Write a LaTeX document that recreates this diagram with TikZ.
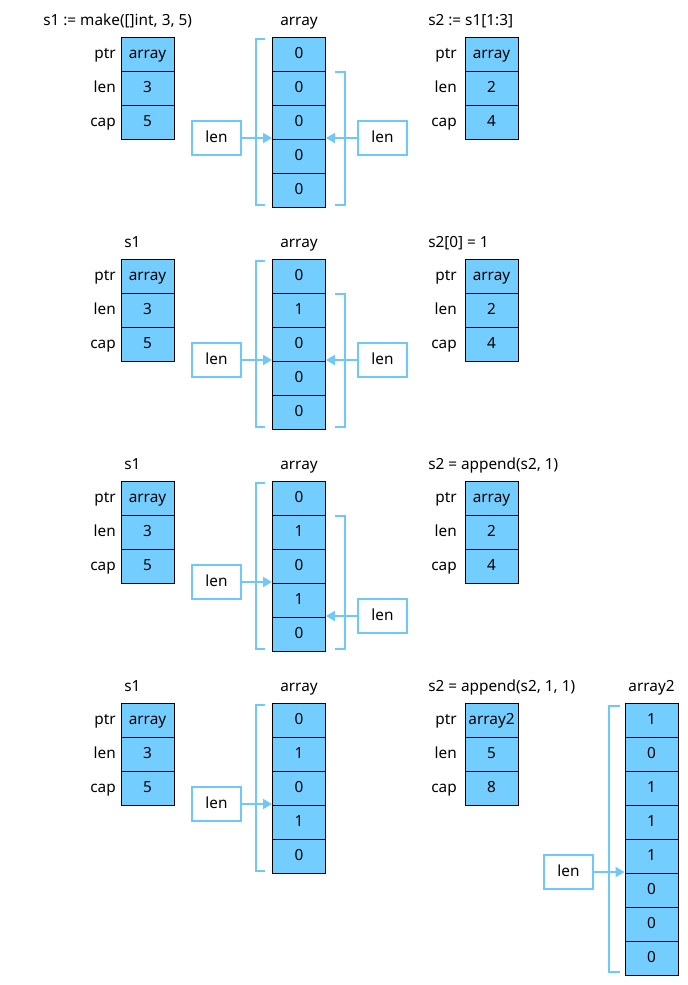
\documentclass[tikz,border=0pt]{standalone}
\usepackage{fontspec}
\setmainfont{Noto Sans}
\usetikzlibrary{arrows.meta}
\definecolor{cellblue}{RGB}{115,206,255}
\definecolor{linkblue}{RGB}{110,200,250}
\tikzset{
  txt/.style={inner sep=0pt, font=\fontsize{11.5}{13}\selectfont, text height=8.3pt, text depth=2.2pt},
  cell/.style={txt, draw=black, line width=0.75pt, fill=cellblue, minimum width=39.75pt, minimum height=25.5pt},
  field/.style={txt, anchor=east},
  caption/.style={txt},
  lenbox/.style={txt, draw=linkblue, line width=1.5pt, fill=white, minimum width=36.75pt, minimum height=25.5pt},
  bracket/.style={draw=linkblue, line width=1.5pt},
  lenarrow/.style={linkblue, line width=1.5pt, -{Triangle[length=6.75pt,width=7.5pt]}}
}
\begin{document}
\begin{tikzpicture}[x=0.75pt,y=-0.75pt]
\useasboundingbox (0,0) rectangle (688,985);
% first: make
\node[caption, anchor=west] (t1-0) at (43,21) {s1 := make([]int, 3, 5)};
\node[caption] (ta-0) at (299,21) {array};
\node[caption, anchor=west] (t2-0) at (428,21) {s2 := s1[1:3]};
\node[field] (f1ptr-0) at (116,54) {ptr};
\node[field] (f1len-0) at (116,88) {len};
\node[field] (f1cap-0) at (116,122) {cap};
\node[cell] (s1ptr-0) at (147.5,54) {array};
\node[cell] (s1len-0) at (147.5,88) {3};
\node[cell] (s1cap-0) at (147.5,122) {5};
\draw[bracket] (265,39) -- (256,39) -- (256,205) -- (265,205);
\draw[bracket] (335,72) -- (345,72) -- (345,205) -- (335,205);
\node[cell] (arr-0-0) at (299,54) {0};
\node[cell] (arr-0-1) at (299,88) {0};
\node[cell] (arr-0-2) at (299,122) {0};
\node[cell] (arr-0-3) at (299,156) {0};
\node[cell] (arr-0-4) at (299,190) {0};
\node[lenbox] (lenl-0) at (216.5,138) {len};
\node[lenbox] (lenr-0) at (382.5,138) {len};
\draw[lenarrow] (lenl-0) -- (lenl-0 -| arr-0-2.west);
\draw[lenarrow] (lenr-0) -- (lenr-0 -| arr-0-2.east);
\node[field] (f2ptr-0) at (457,54) {ptr};
\node[field] (f2len-0) at (457,88) {len};
\node[field] (f2cap-0) at (457,122) {cap};
\node[cell] (s2ptr-0) at (491.5,54) {array};
\node[cell] (s2len-0) at (491.5,88) {2};
\node[cell] (s2cap-0) at (491.5,122) {4};
% second: write through s2
\node[caption, anchor=west] (t1-1) at (124,243) {s1};
\node[caption] (ta-1) at (299,243) {array};
\node[caption, anchor=west] (t2-1) at (428,243) {s2[0] = 1};
\node[field] (f1ptr-1) at (116,276) {ptr};
\node[field] (f1len-1) at (116,310) {len};
\node[field] (f1cap-1) at (116,344) {cap};
\node[cell] (s1ptr-1) at (147.5,276) {array};
\node[cell] (s1len-1) at (147.5,310) {3};
\node[cell] (s1cap-1) at (147.5,344) {5};
\draw[bracket] (265,261) -- (256,261) -- (256,427) -- (265,427);
\draw[bracket] (335,294) -- (345,294) -- (345,427) -- (335,427);
\node[cell] (arr-1-0) at (299,276) {0};
\node[cell] (arr-1-1) at (299,310) {1};
\node[cell] (arr-1-2) at (299,344) {0};
\node[cell] (arr-1-3) at (299,378) {0};
\node[cell] (arr-1-4) at (299,412) {0};
\node[lenbox] (lenl-1) at (216.5,360) {len};
\node[lenbox] (lenr-1) at (382.5,360) {len};
\draw[lenarrow] (lenl-1) -- (lenl-1 -| arr-1-2.west);
\draw[lenarrow] (lenr-1) -- (lenr-1 -| arr-1-2.east);
\node[field] (f2ptr-1) at (457,276) {ptr};
\node[field] (f2len-1) at (457,310) {len};
\node[field] (f2cap-1) at (457,344) {cap};
\node[cell] (s2ptr-1) at (491.5,276) {array};
\node[cell] (s2len-1) at (491.5,310) {2};
\node[cell] (s2cap-1) at (491.5,344) {4};
% third: append one
\node[caption, anchor=west] (t1-2) at (124,465) {s1};
\node[caption] (ta-2) at (299,465) {array};
\node[caption, anchor=west] (t2-2) at (428,465) {s2 = append(s2, 1)};
\node[field] (f1ptr-2) at (116,498) {ptr};
\node[field] (f1len-2) at (116,532) {len};
\node[field] (f1cap-2) at (116,566) {cap};
\node[cell] (s1ptr-2) at (147.5,498) {array};
\node[cell] (s1len-2) at (147.5,532) {3};
\node[cell] (s1cap-2) at (147.5,566) {5};
\draw[bracket] (265,483) -- (256,483) -- (256,649) -- (265,649);
\draw[bracket] (335,516) -- (345,516) -- (345,649) -- (335,649);
\node[cell] (arr-2-0) at (299,498) {0};
\node[cell] (arr-2-1) at (299,532) {1};
\node[cell] (arr-2-2) at (299,566) {0};
\node[cell] (arr-2-3) at (299,600) {1};
\node[cell] (arr-2-4) at (299,634) {0};
\node[lenbox] (lenl-2) at (216.5,582) {len};
\node[lenbox] (lenr-2) at (382.5,616) {len};
\draw[lenarrow] (lenl-2) -- (lenl-2 -| arr-2-2.west);
\draw[lenarrow] (lenr-2) -- (lenr-2 -| arr-2-3.east);
\node[field] (f2ptr-2) at (457,498) {ptr};
\node[field] (f2len-2) at (457,532) {len};
\node[field] (f2cap-2) at (457,566) {cap};
\node[cell] (s2ptr-2) at (491.5,498) {array};
\node[cell] (s2len-2) at (491.5,532) {2};
\node[cell] (s2cap-2) at (491.5,566) {4};
% fourth: append two, new array
\node[caption, anchor=west] (t1-3) at (124,687) {s1};
\node[caption] (ta-3) at (299,687) {array};
\node[caption, anchor=west] (t2-3) at (428,687) {s2 = append(s2, 1, 1)};
\node[caption] (tb-3) at (651.5,687) {array2};
\node[field] (f1ptr-3) at (116,720) {ptr};
\node[field] (f1len-3) at (116,754) {len};
\node[field] (f1cap-3) at (116,788) {cap};
\node[cell] (s1ptr-3) at (147.5,720) {array};
\node[cell] (s1len-3) at (147.5,754) {3};
\node[cell] (s1cap-3) at (147.5,788) {5};
\draw[bracket] (265,705) -- (256,705) -- (256,871) -- (265,871);
\node[cell] (arr-3-0) at (299,720) {0};
\node[cell] (arr-3-1) at (299,754) {1};
\node[cell] (arr-3-2) at (299,788) {0};
\node[cell] (arr-3-3) at (299,822) {1};
\node[cell] (arr-3-4) at (299,856) {0};
\node[lenbox] (lenl-3) at (216.5,804) {len};
\draw[lenarrow] (lenl-3) -- (lenl-3 -| arr-3-2.west);
\node[field] (f2ptr-3) at (457,720) {ptr};
\node[field] (f2len-3) at (457,754) {len};
\node[field] (f2cap-3) at (457,788) {cap};
\node[cell] (s2ptr-3) at (491.5,720) {array2};
\node[cell] (s2len-3) at (491.5,754) {5};
\node[cell] (s2cap-3) at (491.5,788) {8};
\draw[bracket] (620,706) -- (609,706) -- (609,972) -- (620,972);
\node[cell] (arb-3-0) at (651.5,720) {1};
\node[cell] (arb-3-1) at (651.5,754) {0};
\node[cell] (arb-3-2) at (651.5,788) {1};
\node[cell] (arb-3-3) at (651.5,822) {1};
\node[cell] (arb-3-4) at (651.5,856) {1};
\node[cell] (arb-3-5) at (651.5,890) {0};
\node[cell] (arb-3-6) at (651.5,924) {0};
\node[cell] (arb-3-7) at (651.5,958) {0};
\node[lenbox] (lenb-3) at (568.5,872) {len};
\draw[lenarrow] (lenb-3) -- (lenb-3 -| arb-3-4.west);
\end{tikzpicture}
\end{document}
